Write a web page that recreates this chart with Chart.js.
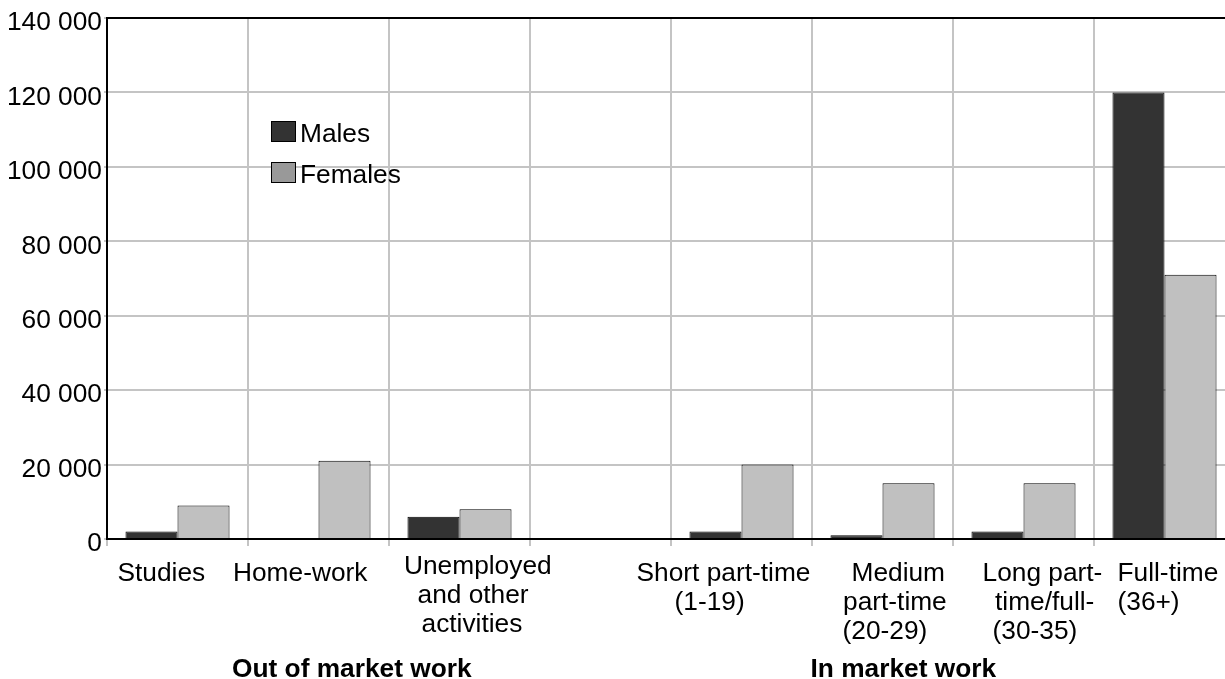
<!DOCTYPE html>
<html>
<head>
<meta charset="utf-8">
<script src="https://cdn.jsdelivr.net/npm/chart.js@4/dist/chart.umd.min.js"></script>
<style>
html,body{margin:0;padding:0;background:#fff;overflow:hidden;}
canvas{display:block;}
</style>
</head>
<body>
<canvas id="c" width="1240" height="679"></canvas>
<script>
// ---- data ----
const categories = [
  ['Studies'],
  ['Home-work'],
  ['Unemployed', 'and other', 'activities'],
  [''],
  ['Short part-time', '(1-19)'],
  ['Medium', 'part-time', '(20-29)'],
  ['Long part-', 'time/full-', '(30-35)'],
  ['Full-time', '(36+)']
];
const males   = [2000, 0, 6000, null, 2000, 1000, 2000, 120000];
const females = [9000, 21000, 8000, null, 20000, 15000, 15000, 71000];
const seriesNames = ['Males', 'Females'];
const yTicks = [0, 20000, 40000, 60000, 80000, 100000, 120000, 140000];
const groupLabels = ['Out of market work', 'In market work'];

// ---- layout / style (not data) ----
const FONT = '"Liberation Sans", Arial, Helvetica, sans-serif';
const FS = 26.3;
const labelDx = [[-60], [-85.5], [-55.5, -42, -38], [], [-105, -67], [-31, -39.5, -40], [-41, -28.5, -31], [-47, -47]];
const labelDy = [42, 42, 35, 42, 41.5, 41.5, 41.5, 41.5];
const lineH = 29;
const groupAnchor = [{cat: 1, dx: -86.5}, {cat: 5, dx: -72}];
const legendFill = ['#333333', '#999999'];

function fmt(v) { return String(v).replace(/\B(?=(\d{3})+(?!\d))/g, ' '); }

const customDraw = {
  id: 'customDraw',
  afterDraw(chart) {
    const ctx = chart.ctx;
    const ca = chart.chartArea;
    const xs = chart.scales.x;
    ctx.save();
    // top frame line
    ctx.strokeStyle = '#000';
    ctx.lineWidth = 2;
    ctx.beginPath();
    ctx.moveTo(ca.left - 1, ca.top);
    ctx.lineTo(chart.width, ca.top);
    ctx.stroke();

    // x category labels
    ctx.fillStyle = '#000';
    ctx.textBaseline = 'alphabetic';
    ctx.textAlign = 'left';
    ctx.font = FS + 'px ' + FONT;
    categories.forEach((lines, i) => {
      const cx = xs.getPixelForValue(i);
      lines.forEach((t, j) => {
        if (!t) return;
        ctx.fillText(t, cx + labelDx[i][j], ca.bottom + labelDy[i] + j * lineH);
      });
    });

    // group labels
    ctx.font = 'bold ' + FS + 'px ' + FONT;
    groupLabels.forEach((g, k) => {
      const cx = xs.getPixelForValue(groupAnchor[k].cat);
      ctx.fillText(g, cx + groupAnchor[k].dx, 676.5);
    });

    // legend
    ctx.font = FS + 'px ' + FONT;
    const lx = xs.getPixelForValue(1) - 47.5;
    const ly = [121, 162];
    seriesNames.forEach((n, k) => {
      ctx.fillStyle = legendFill[k];
      ctx.fillRect(lx, ly[k], 25, 21);
      ctx.strokeStyle = '#000';
      ctx.lineWidth = 1;
      ctx.strokeRect(lx + 0.5, ly[k] + 0.5, 24, 20);
      ctx.fillStyle = '#000';
      ctx.fillText(n, lx + 29, ly[k] + 21);
    });
    ctx.restore();
  }
};

new Chart(document.getElementById('c'), {
  type: 'bar',
  data: {
    labels: categories.map(l => l.join(' ')),
    datasets: [
      {label: seriesNames[0], data: males, backgroundColor: '#333333', borderColor: '#000', borderWidth: 1},
      {label: seriesNames[1], data: females, backgroundColor: '#c0c0c0', borderColor: '#000', borderWidth: 1}
    ]
  },
  options: {
    responsive: false,
    animation: false,
    devicePixelRatio: 1,
    layout: {padding: {top: 18, right: 5, left: 0, bottom: 0}},
    datasets: {bar: {categoryPercentage: 0.738, barPercentage: 1}},
    plugins: {legend: {display: false}, tooltip: {enabled: false}},
    scales: {
      x: {
        grid: {offset: true, color: '#c4c4c4', lineWidth: 2, tickLength: 7, drawTicks: true},
        border: {display: true, color: '#000', width: 2},
        ticks: {display: false},
        afterFit(s) { s.height = 140; s.paddingLeft = 0; s.paddingRight = 0; }
      },
      y: {
        min: 0, max: 140000,
        afterBuildTicks(s) { s.ticks = yTicks.map(v => ({value: v})); },
        grid: {color: '#c4c4c4', lineWidth: 2, tickLength: 3},
        border: {display: true, color: '#000', width: 2},
        ticks: {
          callback: v => fmt(v),
          color: '#000',
          font: {family: FONT, size: FS},
          padding: 2,
          labelOffset: 5
        },
        afterFit(s) { s.width = 107; s.paddingTop = 0; s.paddingBottom = 0; }
      }
    }
  },
  plugins: [customDraw]
});
</script>
</body>
</html>
